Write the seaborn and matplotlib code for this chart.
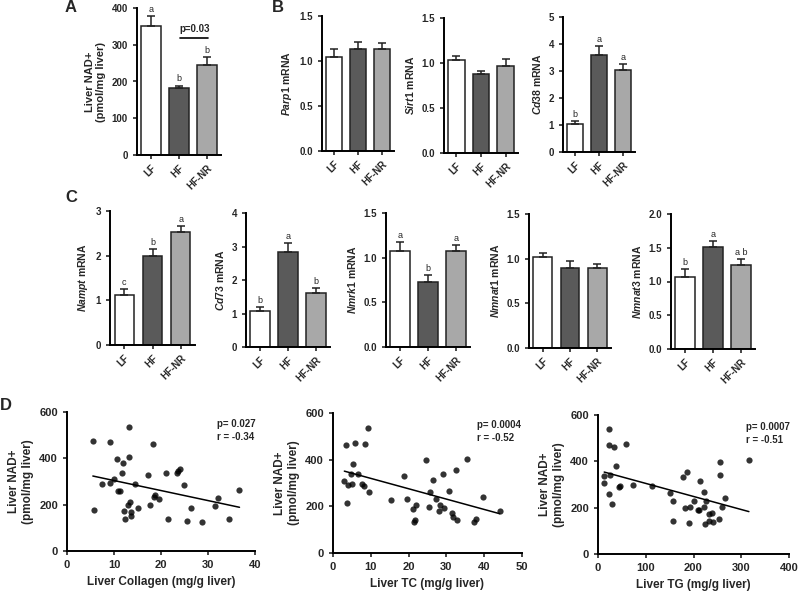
import numpy as np
import pandas as pd
import matplotlib
matplotlib.use('Agg')
import matplotlib.pyplot as plt
import seaborn as sns

# grupos e cores
groups = ['LF', 'HF', 'HF-NR']
bar_colors = ['#ffffff', '#5a5a5a', '#a8a8a8']

# painel A - NAD+ hepatico
nad_mean = [352, 181, 244]
nad_sem = [25, 8, 22]
nad_letters = ['a', 'b', 'b']

# painel B
parp1_mean = [1.05, 1.13, 1.13]
parp1_sem = [0.08, 0.08, 0.07]
sirt1_mean = [1.03, 0.88, 0.97]
sirt1_sem = [0.05, 0.03, 0.07]
cd38_mean = [1.05, 3.60, 3.05]
cd38_sem = [0.08, 0.32, 0.22]
cd38_letters = ['b', 'a', 'a']

# painel C
nampt_mean = [1.12, 1.99, 2.54]
nampt_sem = [0.13, 0.16, 0.12]
nampt_letters = ['c', 'b', 'a']
cd73_mean = [1.08, 2.83, 1.60]
cd73_sem = [0.12, 0.28, 0.15]
cd73_letters = ['b', 'a', 'b']
nmrk1_mean = [1.07, 0.73, 1.07]
nmrk1_sem = [0.10, 0.08, 0.07]
nmrk1_letters = ['a', 'b', 'a']
nmnat1_mean = [1.02, 0.90, 0.89]
nmnat1_sem = [0.04, 0.07, 0.05]
nmnat3_mean = [1.07, 1.51, 1.24]
nmnat3_sem = [0.11, 0.09, 0.09]
nmnat3_letters = ['b', 'a', 'a b']

# painel D - correlacoes
nad_points = [473, 178, 469, 291, 295, 312, 397, 260, 258, 337, 380, 537, 404, 174,
              140, 200, 211, 168, 150, 291, 184, 328, 200, 460, 233, 240, 224, 337,
              140, 337, 345, 352, 286, 130, 187, 125, 194, 229, 140, 265]
collagen = [5.5, 5.7, 9.2, 7.4, 9.2, 10.1, 10.6, 10.8, 11.3, 11.7, 12.0, 13.1, 13.1, 12.2,
            12.4, 13.0, 13.5, 13.7, 13.7, 14.4, 15.1, 17.2, 17.7, 18.4, 18.5, 18.8, 19.6, 21.1,
            21.5, 23.4, 23.7, 24.1, 24.9, 25.6, 26.4, 28.7, 31.5, 32.1, 34.4, 36.7]

tc = [3.0, 3.5, 3.7, 4.1, 4.7, 5.0, 5.2, 5.9, 6.5, 7.8, 8.3, 8.4, 9.2, 9.4, 15.4, 18.9,
      19.6, 21.2, 21.3, 21.8, 22.0, 24.7, 25.7, 25.5, 26.5, 27.3, 28.1, 28.3, 29.0, 29.3,
      30.7, 31.6, 31.7, 32.5, 32.8, 35.4, 37.4, 37.8, 39.6, 44.1]
nad_tc = [307, 461, 213, 292, 340, 294, 383, 472, 339, 297, 287, 468, 535, 260, 228, 330,
          230, 188, 135, 142, 205, 397, 262, 198, 314, 230, 178, 205, 340, 191,
          267, 171, 154, 354, 142, 405, 135, 144, 239, 182]

tg = [13, 13, 24, 24, 22, 26, 30, 34, 38, 43, 47, 58, 74, 114, 151, 158, 158, 177, 186, 183,
      192, 191, 200, 209, 212, 214, 223, 222, 224, 227, 232, 232, 238, 240, 254, 255, 255,
      259, 266, 316]
nad_tg = [337, 308, 538, 471, 260, 339, 214, 463, 382, 288, 294, 473, 297, 294, 263, 230,
          143, 331, 353, 197, 202, 135, 227, 189, 188, 313, 267, 201, 129, 230, 172, 143,
          179, 139, 151, 399, 340, 204, 240, 407]

sns.set_style('ticks')
plt.rcParams['font.family'] = ['Liberation Sans', 'DejaVu Sans']
plt.rcParams['font.weight'] = 'bold'
plt.rcParams['axes.labelweight'] = 'bold'
plt.rcParams['mathtext.fontset'] = 'custom'
plt.rcParams['mathtext.it'] = 'Liberation Sans:italic:bold'
plt.rcParams['mathtext.rm'] = 'Liberation Sans:bold'
plt.rcParams['axes.linewidth'] = 1.4
plt.rcParams['xtick.major.width'] = 1.2
plt.rcParams['ytick.major.width'] = 1.2
plt.rcParams['xtick.major.size'] = 3
plt.rcParams['ytick.major.size'] = 3
plt.rcParams['xtick.labelsize'] = 7
plt.rcParams['ytick.labelsize'] = 7
plt.rcParams['axes.edgecolor'] = 'black'

W, H = 800, 591
fig = plt.figure(figsize=(8, 5.91), dpi=100)


def make_ax(x0, x1, y0, y1):
    """Cria eixo a partir das coordenadas em pixels (x esq., x dir., y topo, y base)"""
    return fig.add_axes([x0 / W, 1 - y1 / H, (x1 - x0) / W, (y1 - y0) / H])


def bar_panel(ax, means, sems, ylabel, ymax, step, fmt, letters=None):
    """Barras com erro padrao (so para cima) e letras de significancia"""
    df = pd.DataFrame({'grupo': groups, 'valor': means})
    sns.barplot(data=df, x='grupo', y='valor', hue='grupo', palette=bar_colors,
                edgecolor='#222222', linewidth=1.1, width=0.68, legend=False, ax=ax)
    ax.errorbar(range(3), means, yerr=[np.zeros(3), sems], fmt='none',
                ecolor='#222222', elinewidth=1.1, capsize=3, capthick=1.1)
    if letters:
        for i, lt in enumerate(letters):
            ax.annotate(lt, (i, means[i] + sems[i]), xytext=(0, 1.5),
                        textcoords='offset points', ha='center', va='bottom',
                        fontsize=6.5, fontweight='normal')
    ax.set_xlim(-0.5, 2.5)
    ax.set_ylim(0, ymax)
    ax.set_yticks(np.arange(0, ymax + step / 2, step))
    ax.set_yticklabels([fmt.format(v) for v in np.arange(0, ymax + step / 2, step)])
    ax.set_xlabel('')
    ax.set_ylabel(ylabel, fontsize=7.5, labelpad=4)
    ax.set_xticks(range(3))
    ax.set_xticklabels(groups, rotation=45, ha='right', rotation_mode='anchor')
    ax.tick_params(axis='x', pad=3)
    sns.despine(ax=ax)


def scatter_panel(ax, x, y, xlabel, xmax, xstep, stats, tx):
    """Dispersao com reta de regressao"""
    sns.regplot(x=np.array(x), y=np.array(y), ci=None, ax=ax,
                scatter_kws={'s': 20, 'color': 'black', 'linewidths': 0},
                line_kws={'color': 'black', 'linewidth': 1.1})
    ax.set_xlim(0, xmax)
    ax.set_ylim(0, 600)
    ax.set_xticks(np.arange(0, xmax + 1, xstep))
    ax.set_yticks([0, 200, 400, 600])
    ax.set_xlabel(xlabel, fontsize=8.5, labelpad=4)
    ax.set_ylabel('Liver NAD+\n(pmol/mg liver)', fontsize=8.5, labelpad=4)
    ax.tick_params(labelsize=8)
    ax.text(tx, 550, stats[0], fontsize=7, va='center')
    ax.text(tx, 494, stats[1], fontsize=7, va='center')
    sns.despine(ax=ax)


# A
axA = make_ax(137, 221, 8, 155)
bar_panel(axA, nad_mean, nad_sem, 'Liver NAD+\n(pmol/mg liver)', 400, 100, '{:.0f}', nad_letters)
axA.yaxis.label.set_size(8)
axA.plot([1.05, 2.05], [318, 318], color='black', linewidth=1.2)
axA.text(1.55, 328, 'p=0.03', ha='center', va='bottom', fontsize=7)

# B
bar_panel(make_ax(322, 394, 16, 151), parp1_mean, parp1_sem, '$\\it{Parp1}$ mRNA', 1.5, 0.5, '{:.1f}')
bar_panel(make_ax(444, 518, 18, 153), sirt1_mean, sirt1_sem, '$\\it{Sirt1}$ mRNA', 1.5, 0.5, '{:.1f}')
bar_panel(make_ax(563, 635, 17, 152), cd38_mean, cd38_sem, '$\\it{Cd38}$ mRNA', 5, 1, '{:.0f}', cd38_letters)

# C
bar_panel(make_ax(110, 195, 211, 345), nampt_mean, nampt_sem, '$\\it{Nampt}$ mRNA', 3, 1, '{:.0f}', nampt_letters)
bar_panel(make_ax(246, 330, 213, 347), cd73_mean, cd73_sem, '$\\it{Cd73}$ mRNA', 4, 1, '{:.0f}', cd73_letters)
bar_panel(make_ax(386, 470, 213, 347), nmrk1_mean, nmrk1_sem, '$\\it{Nmrk1}$ mRNA', 1.5, 0.5, '{:.1f}', nmrk1_letters)
bar_panel(make_ax(529, 611, 214, 348), nmnat1_mean, nmnat1_sem, '$\\it{Nmnat1}$ mRNA', 1.5, 0.5, '{:.1f}')
bar_panel(make_ax(671, 755, 214, 349), nmnat3_mean, nmnat3_sem, '$\\it{Nmnat3}$ mRNA', 2.0, 0.5, '{:.1f}', nmnat3_letters)

# D
scatter_panel(make_ax(67, 255, 412, 551), collagen, nad_points, 'Liver Collagen (mg/g liver)',
              40, 10, ['p= 0.027', 'r = -0.34'], 31.9)
scatter_panel(make_ax(333, 522, 413, 553), tc, nad_tc, 'Liver TC (mg/g liver)',
              50, 10, ['p= 0.0004', 'r = -0.52'], 38.1)
scatter_panel(make_ax(598, 789, 415, 554), tg, nad_tg, 'Liver TG (mg/g liver)',
              400, 100, ['p= 0.0007', 'r = -0.51'], 310)

# letras dos paineis
for lab, px, py in [('A', 65, 8), ('B', 272, 8), ('C', 65, 198), ('D', 0, 405)]:
    fig.text(px / W, 1 - py / H, lab, fontsize=12, fontweight='bold', va='center', ha='left')

plt.savefig('out.png', dpi=100)
